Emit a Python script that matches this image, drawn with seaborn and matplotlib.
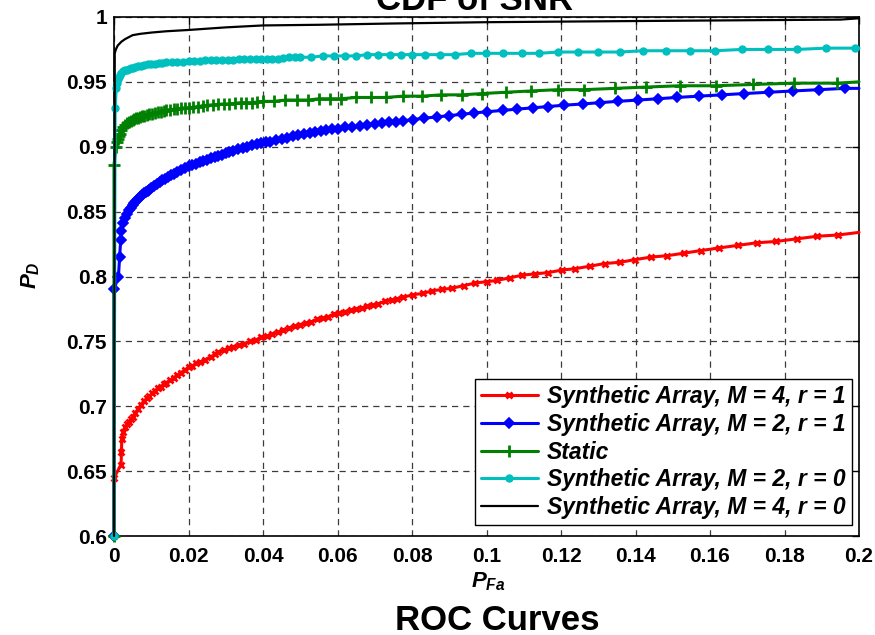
import matplotlib
matplotlib.use("Agg")
import matplotlib.pyplot as plt
from matplotlib.font_manager import FontProperties
from matplotlib.ticker import FuncFormatter
import seaborn as sns

sns.set_theme(style="white")
plt.rcParams["font.family"] = ["Liberation Sans", "DejaVu Sans"]
plt.rcParams["font.weight"] = "bold"
plt.rcParams["text.color"] = "black"
plt.rcParams["axes.labelcolor"] = "black"
plt.rcParams["xtick.color"] = "black"
plt.rcParams["ytick.color"] = "black"
plt.rcParams["mathtext.fontset"] = "custom"
plt.rcParams["mathtext.it"] = "Liberation Sans:italic:bold"
plt.rcParams["mathtext.rm"] = "Liberation Sans:bold"
plt.rcParams["mathtext.bf"] = "Liberation Sans:bold"

# ---- data: probability of false alarm vs probability of detection ----
series_labels = [
    "Synthetic Array, M = 4, r = 1",
    "Synthetic Array, M = 2, r = 1",
    "Static",
    "Synthetic Array, M = 2, r = 0",
    "Synthetic Array, M = 4, r = 0",
]

m4r1_pfa = [0, 0, 0.0019, 0.002, 0.0021, 0.0025, 0.003, 0.0035, 0.004, 0.0045,
            0.005, 0.0057, 0.0065, 0.0072, 0.008, 0.0088, 0.0095, 0.0103, 0.011, 0.0118,
            0.0125, 0.0133, 0.014, 0.015, 0.016, 0.017, 0.018, 0.019, 0.020, 0.021,
            0.022, 0.023, 0.0245, 0.026, 0.027, 0.028, 0.0295, 0.031, 0.032, 0.0335,
            0.035, 0.0365, 0.038, 0.0395, 0.041, 0.0425, 0.044, 0.0455, 0.047, 0.0485,
            0.050, 0.0515, 0.053, 0.0545, 0.056, 0.0575, 0.059, 0.0605, 0.062, 0.0635,
            0.065, 0.0665, 0.068, 0.0695, 0.071, 0.0728, 0.0745, 0.076, 0.0776, 0.0803,
            0.0830, 0.0854, 0.0881, 0.0907, 0.0940, 0.0969, 0.1001, 0.1028, 0.1063, 0.1095,
            0.1130, 0.1165, 0.1203, 0.1238, 0.1278, 0.1318, 0.1359, 0.1399, 0.1442, 0.1485,
            0.1530, 0.1576, 0.1624, 0.1675, 0.1726, 0.1777, 0.1833, 0.1887, 0.1944, 0.2]
m4r1_pd = [0.600, 0.645, 0.655, 0.665, 0.675, 0.680, 0.684, 0.686, 0.688, 0.690,
           0.692, 0.695, 0.698, 0.701, 0.704, 0.706, 0.708, 0.710, 0.712, 0.714,
           0.715, 0.717, 0.718, 0.720, 0.722, 0.724, 0.726, 0.728, 0.730, 0.731,
           0.733, 0.734, 0.736, 0.738, 0.740, 0.742, 0.743, 0.745, 0.746, 0.747,
           0.748, 0.750, 0.751, 0.753, 0.754, 0.756, 0.757, 0.759, 0.760, 0.762,
           0.763, 0.764, 0.765, 0.767, 0.768, 0.769, 0.771, 0.772, 0.773, 0.774,
           0.775, 0.776, 0.777, 0.778, 0.779, 0.781, 0.782, 0.783, 0.784, 0.786,
           0.787, 0.789, 0.790, 0.791, 0.793, 0.795, 0.796, 0.797, 0.799, 0.801,
           0.802, 0.803, 0.805, 0.806, 0.808, 0.810, 0.811, 0.813, 0.815, 0.816,
           0.818, 0.820, 0.822, 0.824, 0.826, 0.827, 0.829, 0.831, 0.832, 0.834]

m2r1_pfa = [0, 0, 0.0012, 0.0015, 0.0018, 0.002, 0.0025, 0.003, 0.0035, 0.004,
            0.0045, 0.005, 0.0055, 0.006, 0.0065, 0.007, 0.0075, 0.008, 0.0085, 0.009,
            0.0095, 0.010, 0.0108, 0.0115, 0.0123, 0.013, 0.0138, 0.0145, 0.0153, 0.016,
            0.017, 0.018, 0.019, 0.020, 0.021, 0.022, 0.023, 0.024, 0.025, 0.026,
            0.027, 0.028, 0.029, 0.030, 0.031, 0.032, 0.0333, 0.0345, 0.0358, 0.037,
            0.0383, 0.0395, 0.0408, 0.042, 0.0435, 0.045, 0.0465, 0.048, 0.0495, 0.051,
            0.0525, 0.054, 0.0555, 0.057, 0.0585, 0.060, 0.062, 0.064, 0.066, 0.068,
            0.070, 0.072, 0.0738, 0.0757, 0.0776, 0.0803, 0.0832, 0.0867, 0.0899, 0.0934,
            0.0966, 0.1001, 0.1044, 0.1082, 0.1125, 0.1165, 0.1208, 0.1259, 0.1305, 0.1353,
            0.1407, 0.1460, 0.1511, 0.1570, 0.1632, 0.1691, 0.1758, 0.1823, 0.1893, 0.1962,
            0.2]
m2r1_pd = [0.600, 0.790, 0.800, 0.815, 0.828, 0.835, 0.841, 0.845, 0.848, 0.851,
           0.853, 0.855, 0.8565, 0.858, 0.8595, 0.861, 0.8625, 0.864, 0.865, 0.866,
           0.867, 0.868, 0.8695, 0.871, 0.8725, 0.874, 0.8755, 0.877, 0.878, 0.879,
           0.8805, 0.882, 0.8835, 0.885, 0.886, 0.887, 0.888, 0.889, 0.890, 0.891,
           0.892, 0.893, 0.894, 0.895, 0.896, 0.897, 0.898, 0.899, 0.900, 0.901,
           0.902, 0.903, 0.9035, 0.904, 0.905, 0.906, 0.907, 0.908, 0.909, 0.910,
           0.9105, 0.911, 0.912, 0.913, 0.9135, 0.914, 0.915, 0.9155, 0.916, 0.9167,
           0.9175, 0.918, 0.9187, 0.9193, 0.920, 0.921, 0.922, 0.923, 0.924, 0.925,
           0.926, 0.927, 0.928, 0.929, 0.930, 0.931, 0.932, 0.933, 0.934, 0.935,
           0.936, 0.937, 0.938, 0.939, 0.940, 0.941, 0.942, 0.943, 0.944, 0.945,
           0.945]

static_pfa = [0, 0, 0.0005, 0.0008, 0.001, 0.0013, 0.0016, 0.002, 0.0025, 0.003,
              0.0035, 0.004, 0.0045, 0.005, 0.0055, 0.006, 0.0065, 0.007, 0.0075, 0.008,
              0.0088, 0.0095, 0.0103, 0.011, 0.0118, 0.0125, 0.0133, 0.014, 0.015, 0.016,
              0.017, 0.018, 0.019, 0.020, 0.0213, 0.0225, 0.0238, 0.025, 0.0265, 0.028,
              0.0295, 0.031, 0.0325, 0.034, 0.0355, 0.037, 0.0385, 0.040, 0.043, 0.046,
              0.049, 0.052, 0.055, 0.058, 0.061, 0.065, 0.069, 0.073, 0.0776, 0.0827,
              0.0878, 0.0934, 0.0988, 0.1052, 0.1119, 0.1192, 0.1262, 0.1345, 0.1428, 0.1519,
              0.1616, 0.1715, 0.1826, 0.1941, 0.2]
static_pd = [0.600, 0.886, 0.900, 0.904, 0.906, 0.908, 0.910, 0.913, 0.915, 0.917,
             0.918, 0.919, 0.920, 0.921, 0.9215, 0.922, 0.9225, 0.923, 0.9235, 0.924,
             0.9245, 0.925, 0.9255, 0.926, 0.9265, 0.927, 0.9275, 0.928, 0.9285, 0.929,
             0.9293, 0.9297, 0.930, 0.930, 0.9305, 0.931, 0.9315, 0.932, 0.9323, 0.9327,
             0.933, 0.933, 0.9335, 0.934, 0.934, 0.934, 0.9345, 0.935, 0.935, 0.936,
             0.936, 0.936, 0.937, 0.937, 0.937, 0.938, 0.938, 0.938, 0.939, 0.939,
             0.940, 0.940, 0.941, 0.942, 0.943, 0.944, 0.944, 0.945, 0.946, 0.947,
             0.947, 0.948, 0.949, 0.949, 0.950]

m2r0_pfa = [0, 0.0003, 0.0006, 0.0008, 0.001, 0.0013, 0.0016, 0.002, 0.0025, 0.003,
            0.0035, 0.004, 0.0045, 0.005, 0.0057, 0.0065, 0.0072, 0.008, 0.009, 0.010,
            0.011, 0.012, 0.013, 0.014, 0.0155, 0.017, 0.0185, 0.020, 0.0215, 0.023,
            0.0245, 0.026, 0.0275, 0.029, 0.0305, 0.032, 0.0335, 0.035, 0.0365, 0.038,
            0.0395, 0.041, 0.0425, 0.044, 0.0455, 0.047, 0.0485, 0.050, 0.053, 0.056,
            0.059, 0.062, 0.065, 0.068, 0.071, 0.074, 0.077, 0.080, 0.0835, 0.0875,
            0.0915, 0.0958, 0.0999, 0.1044, 0.1095, 0.1141, 0.1192, 0.1246, 0.1300, 0.1358,
            0.1420, 0.1482, 0.1546, 0.1613, 0.1686, 0.1756, 0.1834, 0.1911, 0.1989, 0.2]
m2r0_pd = [0.600, 0.930, 0.945, 0.949, 0.952, 0.954, 0.955, 0.957, 0.958, 0.959,
           0.9595, 0.960, 0.9605, 0.961, 0.9615, 0.962, 0.9625, 0.963, 0.9635, 0.964,
           0.964, 0.9645, 0.9645, 0.965, 0.965, 0.9653, 0.9657, 0.966, 0.966, 0.966,
           0.9665, 0.967, 0.967, 0.967, 0.967, 0.967, 0.9675, 0.968, 0.968, 0.968,
           0.968, 0.968, 0.968, 0.968, 0.9685, 0.969, 0.969, 0.969, 0.969, 0.970,
           0.970, 0.970, 0.970, 0.971, 0.971, 0.971, 0.971, 0.971, 0.971, 0.971,
           0.971, 0.972, 0.972, 0.972, 0.972, 0.972, 0.973, 0.973, 0.973, 0.973,
           0.974, 0.974, 0.974, 0.974, 0.975, 0.975, 0.975, 0.976, 0.976, 0.976]

m4r0_pfa = [0, 0.0002, 0.0005, 0.001, 0.002, 0.003, 0.005, 0.007, 0.010, 0.014,
            0.020, 0.030, 0.040, 0.055, 0.075, 0.100, 0.145, 0.195, 0.2]
m4r0_pd = [0.600, 0.972, 0.975, 0.978, 0.981, 0.983, 0.986, 0.987, 0.988, 0.989,
           0.990, 0.992, 0.9935, 0.994, 0.995, 0.996, 0.997, 0.998, 0.999]

x_ticks = [0, 0.02, 0.04, 0.06, 0.08, 0.1, 0.12, 0.14, 0.16, 0.18, 0.2]
y_ticks = [0.6, 0.65, 0.7, 0.75, 0.8, 0.85, 0.9, 0.95, 1.0]

# ---- drawing ----
fig = plt.figure(figsize=(8.75, 6.35), dpi=100)
ax = fig.add_axes([114 / 875, 1 - 536 / 635, 745 / 875, 519 / 635])

styles = [
    dict(color=(1, 0, 0), marker="x", markersize=5, markeredgewidth=2.0, linewidth=2.2),
    dict(color=(0, 0, 1), marker="D", markersize=5, markeredgewidth=1.2, linewidth=2.2),
    dict(color=(0, 0.5, 0), marker="+", markersize=8, markeredgewidth=2.0, linewidth=2.2),
    dict(color=(0, 0.75, 0.75), marker="o", markersize=5, markeredgewidth=1.0, linewidth=2.2),
    dict(color=(0, 0, 0), marker=None, markersize=0, markeredgewidth=0, linewidth=1.6),
]
curves = [(m4r1_pfa, m4r1_pd), (m2r1_pfa, m2r1_pd), (static_pfa, static_pd),
          (m2r0_pfa, m2r0_pd), (m4r0_pfa, m4r0_pd)]

for (xs, ys), label, st in zip(curves, series_labels, styles):
    kw = dict(color=st["color"], linewidth=st["linewidth"], label=label,
              clip_on=False, zorder=3)
    if st["marker"] is not None:
        kw.update(marker=st["marker"], markersize=st["markersize"],
                  markeredgewidth=st["markeredgewidth"],
                  markeredgecolor=st["color"], markerfacecolor=st["color"],
                  markevery=slice(0, len(xs) - 1))
    sns.lineplot(x=xs, y=ys, ax=ax, estimator=None, sort=False, **kw)

ax.set_xlim(0, 0.2)
ax.set_ylim(0.6, 1.0)
ax.set_xticks(x_ticks)
ax.set_yticks(y_ticks)
ax.xaxis.set_major_formatter(FuncFormatter(lambda v, p: f"{v:g}"))
ax.yaxis.set_major_formatter(FuncFormatter(lambda v, p: f"{v:g}"))
ax.tick_params(direction="in", length=5, width=1, top=True, right=True,
               labelsize=15, colors="black")
ax.tick_params(axis="x", pad=8)
ax.tick_params(axis="y", pad=5)
for lbl in ax.get_xticklabels() + ax.get_yticklabels():
    lbl.set_fontweight("bold")

ax.grid(True, color="#3c3c3c", linestyle=(0, (5, 4)), linewidth=0.9)
ax.set_axisbelow(True)
for sp in ax.spines.values():
    sp.set_visible(True)
    sp.set_color("black")
    sp.set_linewidth(1.2)

ax.set_xlabel("")
ax.set_ylabel("")

leg = ax.legend(loc="lower right", bbox_to_anchor=(0.9906, 0.0212), borderaxespad=0,
                prop=FontProperties(family="Liberation Sans", weight="bold",
                                    style="italic", size=16.5),
                frameon=True, fancybox=False, edgecolor="black", framealpha=1,
                handlelength=2.5, handletextpad=0.4, labelspacing=0.2,
                borderpad=0.27, numpoints=1)
leg.get_frame().set_linewidth(1.0)
leg.set_zorder(5)
for t in leg.get_texts():
    t.set_color("black")

fig.text(475 / 875, 1 - 10 / 635, "CDF of SNR", ha="center", va="baseline",
         fontsize=25, fontweight="bold")
fig.text(488 / 875, 1 - 587 / 635, r"$P_{Fa}$", ha="center", va="baseline",
         fontsize=16)
fig.text(31 / 875, 1 - 275 / 635, r"$P_{D}$", ha="center", va="center",
         rotation=90, fontsize=16)
fig.text(497 / 875, 1 - 630 / 635, "ROC Curves", ha="center", va="baseline",
         fontsize=25, fontweight="bold")

fig.savefig("out.png", dpi=100, facecolor="white")
